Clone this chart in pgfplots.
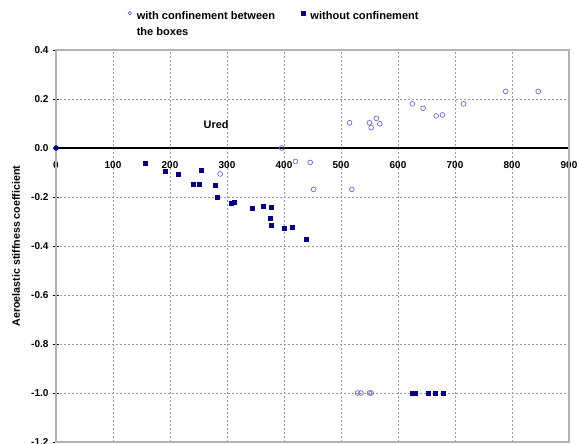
\documentclass[border=0pt]{standalone}
\usepackage{fontspec}
\setmainfont{Liberation Sans}
\usepackage{pgfplots}
\pgfplotsset{compat=1.18}
\definecolor{navyblue}{HTML}{000080}
\definecolor{lilac}{HTML}{6666CC}

\begin{document}
\begin{tikzpicture}
\begin{axis}[
  scale only axis,
  width=384.75pt, height=294pt,
  xmin=0, xmax=900, ymin=-1.2, ymax=0.4,
  axis x line=middle, axis y line=left,
  axis line style={-},
  x axis line style={black, line width=0.8pt},
  y axis line style={gray!70!black, line width=1pt},
  xtick={0,100,200,300,400,500,600,700,800,900},
  ytick={-1.2,-1.0,-0.8,-0.6,-0.4,-0.2,0,0.2,0.4},
  hide obscured x ticks=false, hide obscured y ticks=false,
  xtick style={draw=none},
  ytick style={black, line width=0.5pt},
  y tick label style={/pgf/number format/.cd, fixed, fixed zerofill, precision=1},
  /pgf/number format/assume math mode=true,
  tick label style={font=\fontsize{7.5}{9}\selectfont\bfseries},
  xticklabel style={yshift=-4.5pt},
  grid=major,
  major grid style={gray!80, line width=0.4pt, dash pattern=on 1.5pt off 1.5pt},
  clip=false,
  every axis y label/.style={at={(axis description cs:-0.078,0.5)}, rotate=90, anchor=center,
    font=\fontsize{8}{9.6}\selectfont\bfseries},
  ylabel={Aeroelastic stiffness coefficient},
  legend columns=2,
  legend cell align=left,
  legend style={at={(axis description cs:0.140,1.107)}, anchor=north west, draw=none,
    font=\fontsize{8.3}{12}\selectfont\bfseries, inner sep=0pt,
    cells={align=left, anchor=north west},
    /tikz/every even column/.append style={column sep=18pt}},
  legend image code/.code={\draw[#1, mark size=1.3pt] plot coordinates {(0pt,-3.75pt)}; \path (3pt,-3.75pt);},
]
\draw[gray!60, line width=0.8pt] (rel axis cs:0,0) rectangle (rel axis cs:1,1);

\addplot[only marks, mark=o, mark size=1.8pt, lilac, mark options={line width=0.5pt}] coordinates {
  (396,0.0) (288,-0.106) (420,-0.055) (446,-0.059) (452,-0.169) (519,-0.169)
  (515,0.103) (550,0.103) (553,0.083) (562,0.121) (568,0.099)
  (625,0.180) (644,0.162) (667,0.131) (678,0.135) (715,0.180)
  (789,0.231) (846,0.231)
  (529,-1.0) (535,-1.0) (550,-1.0) (553,-1.0)
};
\addlegendentry{with confinement between\\the boxes}

\addplot[only marks, mark=square*, mark size=1.5pt, navyblue] coordinates {
  (156,-0.064) (192,-0.094) (214,-0.106) (240,-0.150) (251,-0.147) (255,-0.091)
  (279,-0.154) (283,-0.200) (308,-0.224) (313,-0.223) (345,-0.245) (363,-0.238)
  (377,-0.243) (376,-0.288) (377,-0.316) (400,-0.328) (414,-0.322) (439,-0.371)
  (625,-1.0) (631,-1.0) (653,-1.0) (666,-1.0) (680,-1.0)
};
\addlegendentry{without confinement}

\addplot[only marks, mark=*, mark size=1.8pt, navyblue, forget plot] coordinates {(0,0)};

\node[font=\fontsize{8.2}{10}\selectfont\bfseries] at (axis cs:281,0.094) {Ured};
\end{axis}
\pgfresetboundingbox
\path (-42pt,-0.75pt) rectangle (390.75pt,331.5pt);
\end{tikzpicture}
\end{document}
